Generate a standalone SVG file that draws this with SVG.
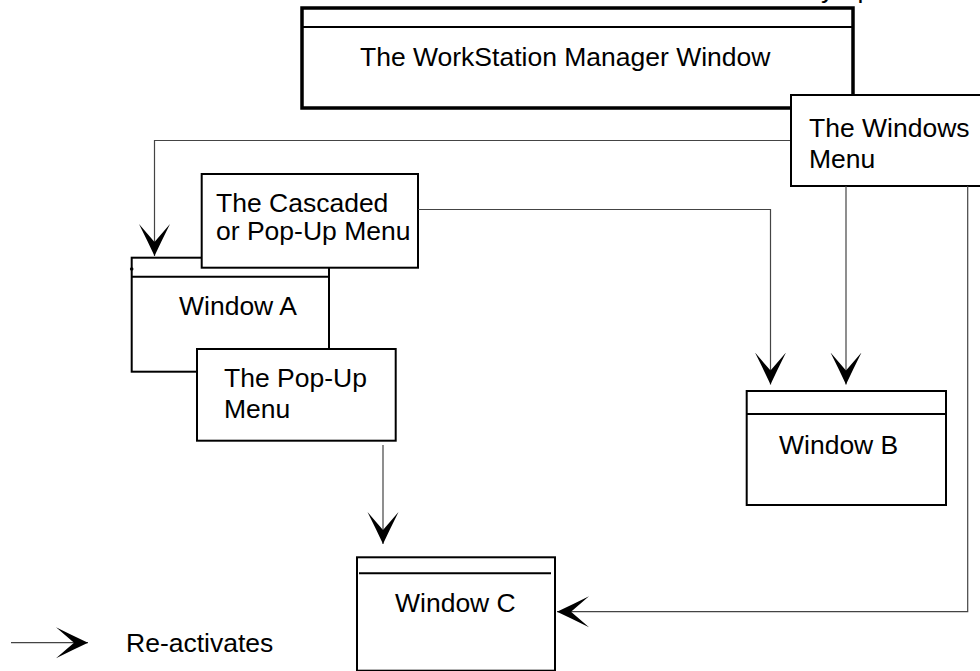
<svg xmlns="http://www.w3.org/2000/svg" width="980" height="671" viewBox="0 0 980 671">
<style>
  text { font-family: "Liberation Sans", Arial, Helvetica, sans-serif; font-size: 26.5px; fill: #000; }
  .box { fill: #fff; stroke: #000; stroke-width: 2; }
  .thick { fill: #fff; stroke: #000; stroke-width: 3.5; }
  .bar { stroke: #000; stroke-width: 2; fill: none; }
  .conn { fill: none; stroke: #444; stroke-width: 1.2; marker-end: url(#arr); }
</style>
<defs>
  <marker id="arr" markerUnits="userSpaceOnUse" markerWidth="32" markerHeight="32" viewBox="0 0 32 32" refX="32" refY="16" orient="auto">
    <path d="M32,16 Q17,9 0,0.5 L18,16 L0,31.5 Q17,23 32,16 Z" fill="#000"/>
  </marker>
</defs>

<text id="cut-text" y="-1.6"><tspan x="821">y</tspan><tspan x="857.5">p</tspan></text>

<g id="workstation">
  <rect class="thick" x="302" y="8" width="551" height="100"/>
  <line class="bar" x1="302" y1="27" x2="853" y2="27" stroke-width="3"/>
  <text x="360" y="66">The WorkStation Manager Window</text>
</g>

<g id="windows-menu">
  <rect class="box" x="791" y="95" width="200" height="91"/>
  <text x="809" y="136.7">The Windows</text>
  <text x="809" y="168.3">Menu</text>
</g>

<g id="window-a">
  <rect class="box" x="131.7" y="257.7" width="197.3" height="114"/>
  <line class="bar" x1="131.7" y1="276.7" x2="329" y2="276.7"/>
  <circle cx="131.7" cy="269" r="1.8" fill="#000"/>
  <text x="179" y="315">Window A</text>
</g>

<g id="cascaded-menu">
  <rect class="box" x="201.7" y="174" width="216.3" height="93.7"/>
  <text x="216" y="211.7">The Cascaded</text>
  <text x="216" y="240">or Pop-Up Menu</text>
</g>

<g id="popup-menu">
  <rect class="box" x="197" y="349" width="198.7" height="91.7"/>
  <text x="224" y="386.7">The Pop-Up</text>
  <text x="224" y="418.3">Menu</text>
</g>

<g id="window-b">
  <rect class="box" x="746.7" y="391" width="199.3" height="114"/>
  <line class="bar" x1="746.7" y1="414" x2="946" y2="414"/>
  <text x="779" y="454">Window B</text>
</g>

<g id="window-c">
  <rect class="box" x="357" y="557.3" width="198" height="113.4"/>
  <line class="bar" x1="359" y1="573.3" x2="551" y2="573.3" stroke-width="2.8"/>
  <text x="395" y="611.7">Window C</text>
</g>

<g id="connectors">
  <path class="conn" d="M790,140.5 H154.5 V256"/>
  <path class="conn" d="M418,209.5 H770.5 V384.5"/>
  <path class="conn" d="M846,186 V384.5"/>
  <path class="conn" d="M967.7,186 V611.7 H557"/>
  <path class="conn" d="M383,445 V544"/>
</g>

<g id="legend">
  <path class="conn" d="M11,642.7 H88"/>
  <text x="126" y="651.7">Re-activates</text>
</g>
</svg>
